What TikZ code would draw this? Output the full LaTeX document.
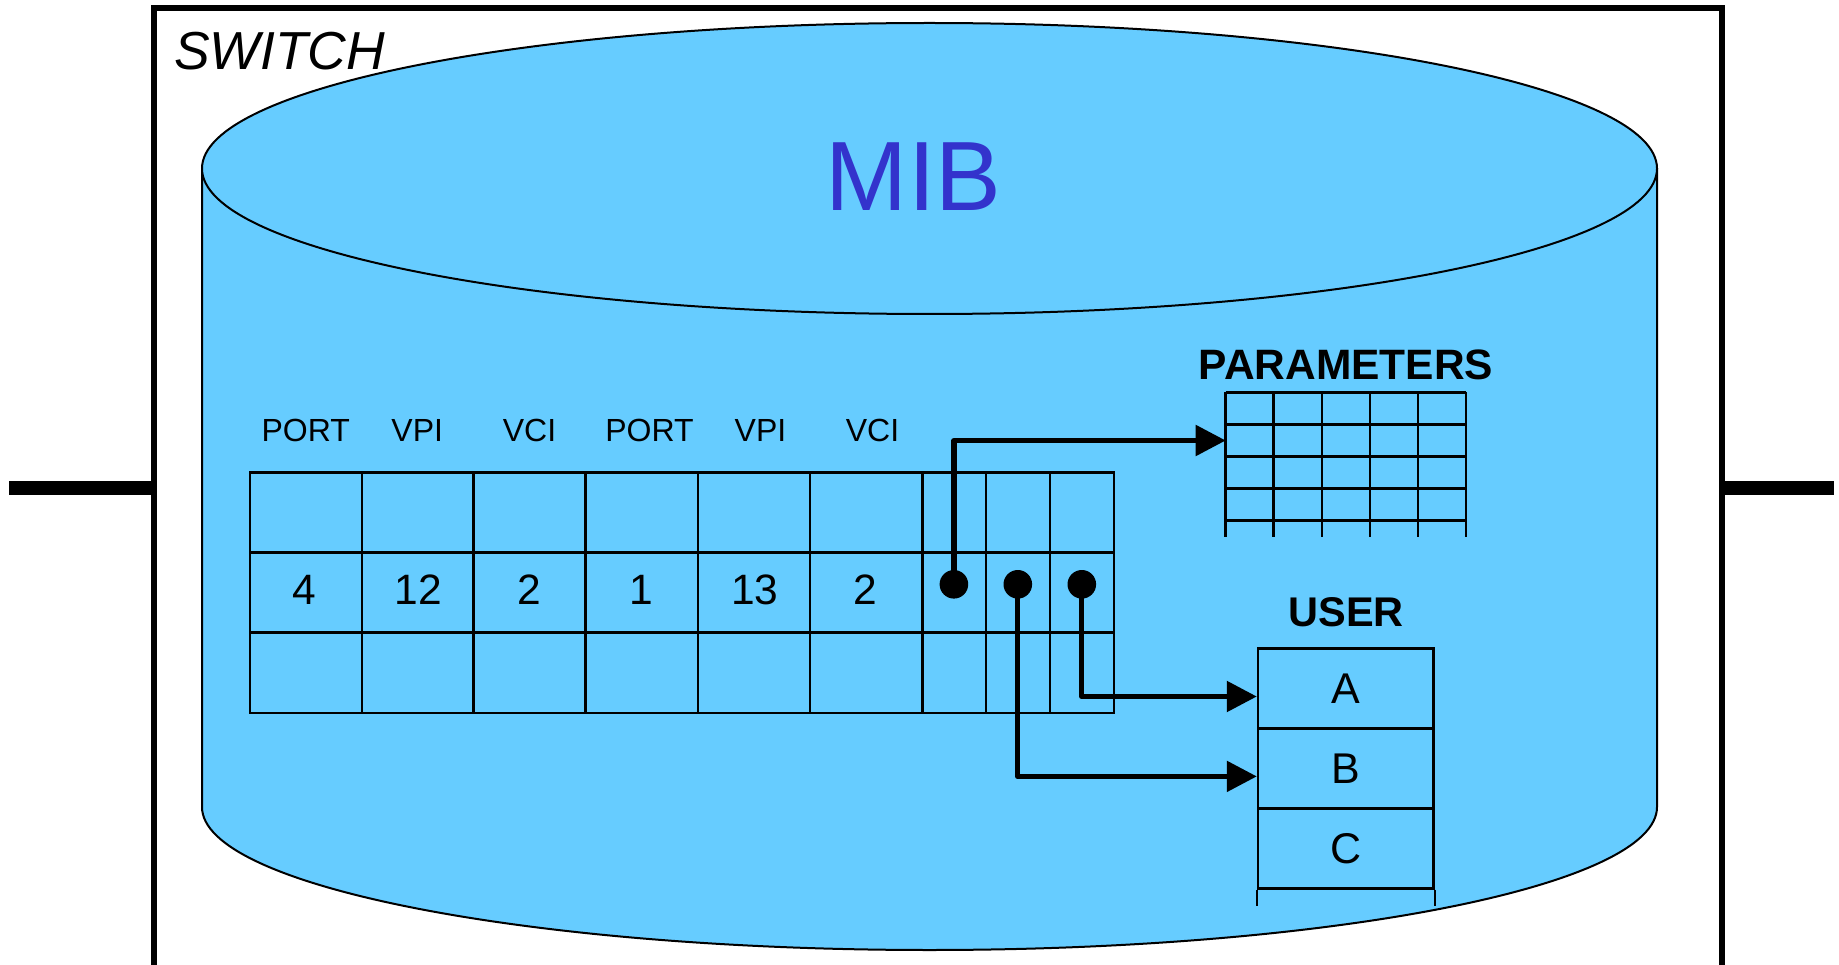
\documentclass[tikz,border=0pt]{standalone}
\usepackage{fontspec}
\setmainfont{Liberation Sans}
\usetikzlibrary{arrows.meta,calc}
\definecolor{cyl}{HTML}{66CCFF}
\definecolor{mibblue}{HTML}{3333CC}
\begin{document}
\begin{tikzpicture}[x=1pt,y=-1pt,
  txt/.style={inner sep=0pt, anchor=base, text=black},
  tgrid/.style={line width=2.4pt, line cap=rect},
  pgrid/.style={line width=2.6pt},
  outline/.style={line width=2pt},
  frame/.style={line width=6pt, line join=miter},
  sideline/.style={line width=14pt},
  conn/.style={line width=5.3pt, line join=round, -{Triangle[length=30pt,width=30pt]}},
  dot/.style={circle, fill=black, inner sep=0pt, minimum size=28.6pt},
  urow/.style={draw, line width=2.4pt, minimum width=175.6pt, minimum height=80pt, inner sep=0pt, font=\fontsize{43}{50}\selectfont},
  hdr/.style={txt, font=\fontsize{32}{36}\selectfont},
  num/.style={txt, font=\fontsize{42.5}{48}\selectfont}
]
\useasboundingbox (0,0) rectangle (1839,965);
\clip (0,0) rectangle (1839,965);
\fill[white] (0,0) rectangle (1839,965);

% switch frame and lines
\coordinate (lin) at (9,488);
\coordinate (bl) at (153.7,488);
\coordinate (br) at (1722,488);
\coordinate (lout) at (1834,488);
\draw[frame] (153.7,1000) -- (153.7,8.2) -- (1722,8.2) -- (1722,1000);
\draw[sideline] (lin) -- (bl);
\draw[sideline] (br) -- (lout);
\node[txt, anchor=base west, font=\fontsize{53.5}{60}\selectfont\itshape] (sw) at (174,70) {SWITCH};

% cylinder (MIB)
\fill[cyl] (202,168.5) -- (202,807) arc[start angle=180,end angle=0,x radius=727.5,y radius=143] -- (1657,168.5) -- cycle;
\draw[outline] (202,168.5) -- (202,807) arc[start angle=180,end angle=0,x radius=727.5,y radius=143] -- (1657,168.5);
\draw[outline, fill=cyl] (929.5,168.5) ellipse [x radius=727.5, y radius=145.5];
\node[txt, text=mibblue, font=\fontsize{98.5}{110}\selectfont] (mib) at (913.5,211) {MIB};

% main table
\foreach \x in {250,361.7,473.4,585.6,697.7,809.8,922.3,985.7,1050,1114}
  \draw[tgrid] (\x,472.3) -- (\x,712.7);
\foreach \y in {472.3,552.3,632.3,712.7}
  \draw[tgrid] (250,\y) -- (1114,\y);

\node[hdr] (h1) at (305.8,441.7) {PORT};
\node[hdr] (h2) at (417.2,441.7) {VPI};
\node[hdr] (h3) at (529.5,441.7) {VCI};
\node[hdr] (h4) at (649.5,441.7) {PORT};
\node[hdr] (h5) at (760.5,441.7) {VPI};
\node[hdr] (h6) at (872.5,441.7) {VCI};

\node[num] (n1) at (304.7,604) {4};
\node[num] (n2) at (418.3,604) {12};
\node[num] (n3) at (529.3,604) {2};
\node[num] (n4) at (640.9,604) {1};
\node[num] (n5) at (754.7,604) {13};
\node[num] (n6) at (865.8,604) {2};

% parameters table
\node[txt, font=\fontsize{42.5}{48}\selectfont\bfseries] (params) at (1346,380) {PARAMETERS};
\foreach \x in {1225.7,1273.7,1322,1370,1418,1466}
  \draw[pgrid] (\x,392.3) -- (\x,536.7);
\foreach \y in {392.3,424.3,456.7,488.3,520.7}
  \draw[pgrid] (1225.7,\y) -- (1466,\y);
\coordinate (pin) at (1225.7,440.5);

% user table
\node[txt, font=\fontsize{41.5}{46}\selectfont\bfseries] (user) at (1346,626) {USER};
\node[urow] (ua) at (1345.8,688.5) {A};
\node[urow] (ub) at (1345.8,768.4) {B};
\node[urow] (uc) at (1345.8,848.3) {C};
\draw[line width=2.4pt] (uc.south west) -- ++(0,16);
\draw[line width=2.4pt] (uc.south east) -- ++(0,16);

% pointers
\node[dot] (d1) at (953.9,584.3) {};
\node[dot] (d2) at (1017.8,584.3) {};
\node[dot] (d3) at (1081.8,584.3) {};
\draw[conn] (d1.center) |- (pin);
\draw[conn] (d3.center) |- ($(ua.west)+(0,8)$);
\draw[conn] (d2.center) |- ($(ub.west)+(0,8)$);
\end{tikzpicture}
\end{document}
